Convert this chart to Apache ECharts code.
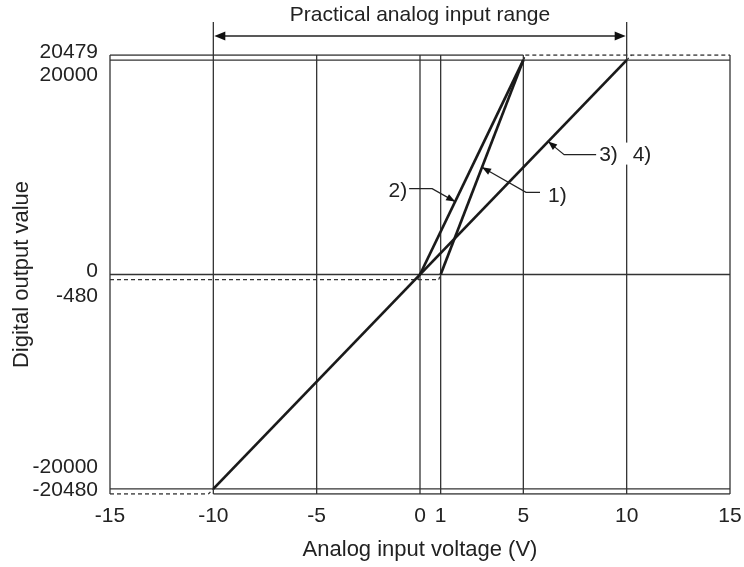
<!DOCTYPE html>
<html>
<head>
<meta charset="utf-8">
<script src="https://cdn.jsdelivr.net/npm/echarts@6/dist/echarts.min.js"></script>
<style>
html,body{margin:0;padding:0;background:#fff;}
#c{width:744px;height:567px;}
</style>
</head>
<body>
<div id="c"></div>
<script>
// ---- data ----
const xTicks = [-15, -10, -5, 0, 1, 5, 10, 15];
const yTicks = [20479, 20000, 0, -480, -20000, -20480];
const xMin = -15, xMax = 15, yMin = -20480, yMax = 20479;

// conversion characteristics (solid part)
const range1 = [[1, 0], [5, 20000]];          // 1)
const range2 = [[0, 0], [5, 20000]];          // 2)
const range34 = [[-10, -20000], [10, 20000]]; // 3) 4)

// out-of-range (dashed) parts
const range1Low = [[0.904, -480], [1, 0]];
const range1High = [[5, 20000], [5.096, 20479]];
const range2Low = [[-0.12, -480], [0, 0]];
const range2High = [[5, 20000], [5.12, 20479]];
const range34Low = [[-10.24, -20480], [-10, -20000]];
const range34High = [[10, 20000], [10.24, 20479]];

// dashed limit lines
const limitLow480 = [[-15, -480], [0.904, -480]];
const limitLow20480 = [[-15, -20480], [-10.24, -20480]];
const limitHigh20479 = [[5.096, 20479], [15, 20479]];

// solid reference lines
const hLines = [
  [[-15, 20479], [5, 20479]],
  [[-15, 20000], [15, 20000]],
  [[-15, 0], [15, 0]],
  [[-15, -20000], [15, -20000]],
  [[-10, -20480], [15, -20480]]
];
const vLinesX = [-15, -10, -5, 0, 1, 5, 10, 15];

// annotation anchor points (on the lines)
const note1 = {text: '1)', at: [3, 10000]};
const note2 = {text: '2)', at: [1.7, 6800]};
const note34 = {text: '3)', text2: '4)', at: [6.2, 12400]};
const rangeTitle = 'Practical analog input range';
const rangeFrom = -10, rangeTo = 10;

// ---- build ----
const FONT = 'Liberation Sans, Arial, sans-serif';
const gridColor = '#333333';
const dataColor = '#1a1a1a';
const TICK_FS = 21;

function seg(data, opts) {
  return Object.assign({
    type: 'line', data: data, symbol: 'none', silent: true,
    animation: false,
    lineStyle: {color: gridColor, width: 1.3, type: 'solid'}, z: 2
  }, opts || {});
}

const series = [];
hLines.forEach(d => series.push(seg(d)));
vLinesX.forEach(x => series.push(seg([[x, yMin], [x, yMax]])));
[limitLow480, limitLow20480, limitHigh20479].forEach(d =>
  series.push(seg(d, {lineStyle: {color: gridColor, width: 1.3, type: [4, 3]}})));
[range1Low, range1High, range2Low, range2High, range34Low, range34High].forEach(d =>
  series.push(seg(d, {lineStyle: {color: gridColor, width: 1.3, type: [3, 3]}, z: 3})));
[range1, range2, range34].forEach(d =>
  series.push(seg(d, {lineStyle: {color: dataColor, width: 2.7}, z: 4})));

const yShift = {
  '20479': 'u6', '20000': 'd30', '0': 'u7', '-480': 'd33',
  '-20000': 'u44', '-20480': 'u8'
};
const rich = {};
Object.values(yShift).forEach(k => {
  const n = parseInt(k.slice(1));
  rich[k] = {fontSize: TICK_FS, fontFamily: FONT, color: '#222',
    padding: k[0] === 'u' ? [0, 0, n, 0] : [n, 0, 0, 0]};
});

const chart = echarts.init(document.getElementById('c'));
chart.setOption({
  animation: false,
  backgroundColor: '#fff',
  grid: {left: 110, right: 14, top: 55, bottom: 73, show: false, outerBoundsMode: 'none', containLabel: false},
  xAxis: {
    type: 'value', min: xMin, max: xMax,
    axisLine: {show: false}, axisTick: {show: false}, splitLine: {show: false},
    axisLabel: {customValues: xTicks, fontSize: TICK_FS, fontFamily: FONT, color: '#222', margin: 12},
    name: 'Analog input voltage (V)', nameLocation: 'middle', nameGap: 45, nameMoveOverlap: false,
    nameTextStyle: {fontSize: 22, fontFamily: FONT, color: '#222'}
  },
  yAxis: {
    type: 'value', min: yMin, max: yMax,
    axisLine: {show: false}, axisTick: {show: false}, splitLine: {show: false},
    axisLabel: {
      customValues: yTicks, margin: 12,
      formatter: v => '{' + yShift[String(v)] + '|' + v + '}',
      rich: rich
    },
    name: 'Digital output value', nameLocation: 'middle', nameGap: 77, nameMoveOverlap: false,
    nameTextStyle: {fontSize: 22, fontFamily: FONT, color: '#222'}
  },
  series: series
});

// ---- annotations (positions derived from data coords) ----
function px(p) { return chart.convertToPixel({gridIndex: 0}, p); }
function arrowHead(tip, from, len, half) {
  const dx = tip[0] - from[0], dy = tip[1] - from[1];
  const L = Math.sqrt(dx * dx + dy * dy);
  const ux = dx / L, uy = dy / L;
  const bx = tip[0] - ux * len, by = tip[1] - uy * len;
  return {type: 'polygon', silent: true, z: 20,
    shape: {points: [tip, [bx - uy * half, by + ux * half], [bx + uy * half, by - ux * half]]},
    style: {fill: '#111'}};
}
const g = [];
const txt = (x, y, s, size, align) => ({type: 'text', x: x, y: y, silent: true, z: 30,
  style: {text: s, font: size + 'px ' + FONT, fill: '#222', align: align || 'left', verticalAlign: 'middle'}});

// 1)
{
  const t = px(note1.at);
  const elbow = [t[0] + 44, t[1] + 25];
  const end = [elbow[0] + 14, elbow[1]];
  g.push({type: 'polyline', silent: true, z: 20, shape: {points: [t, elbow, end]}, style: {stroke: '#222', lineWidth: 1.2, fill: null}});
  g.push(arrowHead(t, elbow, 9, 3.5));
  g.push(txt(end[0] + 8, end[1] + 4, note1.text, TICK_FS));
}
// 2)
{
  const t = px(note2.at);
  const elbow = [t[0] - 23, t[1] - 13];
  const end = [elbow[0] - 23, elbow[1]];
  g.push({type: 'polyline', silent: true, z: 20, shape: {points: [t, elbow, end]}, style: {stroke: '#222', lineWidth: 1.2, fill: null}});
  g.push(arrowHead(t, elbow, 9, 3.5));
  g.push(txt(end[0] - 2, end[1] + 3, note2.text, TICK_FS, 'right'));
}
// 3) 4)
{
  const t = px(note34.at);
  const elbow = [t[0] + 16, t[1] + 13];
  const end = [elbow[0] + 32, elbow[1]];
  g.push({type: 'polyline', silent: true, z: 20, shape: {points: [t, elbow, end]}, style: {stroke: '#222', lineWidth: 1.2, fill: null}});
  g.push(arrowHead(t, elbow, 9, 3.5));
  g.push(txt(end[0] + 3, end[1] + 1, note34.text, TICK_FS));
  const x10 = px([rangeTo, 0])[0];
  g.push({type: 'rect', silent: true, z: 25, shape: {x: x10 - 3, y: end[1] - 12, width: 6, height: 22}, style: {fill: '#fff'}});
  g.push(txt(x10 + 6, end[1] + 1, note34.text2, TICK_FS));
}
// range bracket
{
  const top = px([0, yMax])[1];
  const a = px([rangeFrom, yMax])[0], b = px([rangeTo, yMax])[0];
  const yArr = 36;
  g.push({type: 'line', silent: true, z: 20, shape: {x1: a, y1: 22, x2: a, y2: top}, style: {stroke: gridColor, lineWidth: 1.3}});
  g.push({type: 'line', silent: true, z: 20, shape: {x1: b, y1: 22, x2: b, y2: top}, style: {stroke: gridColor, lineWidth: 1.3}});
  g.push({type: 'line', silent: true, z: 20, shape: {x1: a + 6, y1: yArr, x2: b - 6, y2: yArr}, style: {stroke: '#222', lineWidth: 1.3}});
  g.push(arrowHead([a + 1, yArr], [b, yArr], 11, 4.5));
  g.push(arrowHead([b - 1, yArr], [a, yArr], 11, 4.5));
  g.push(txt((a + b) / 2, 15, rangeTitle, 21, 'center'));
}
chart.setOption({graphic: g});
</script>
</body>
</html>
